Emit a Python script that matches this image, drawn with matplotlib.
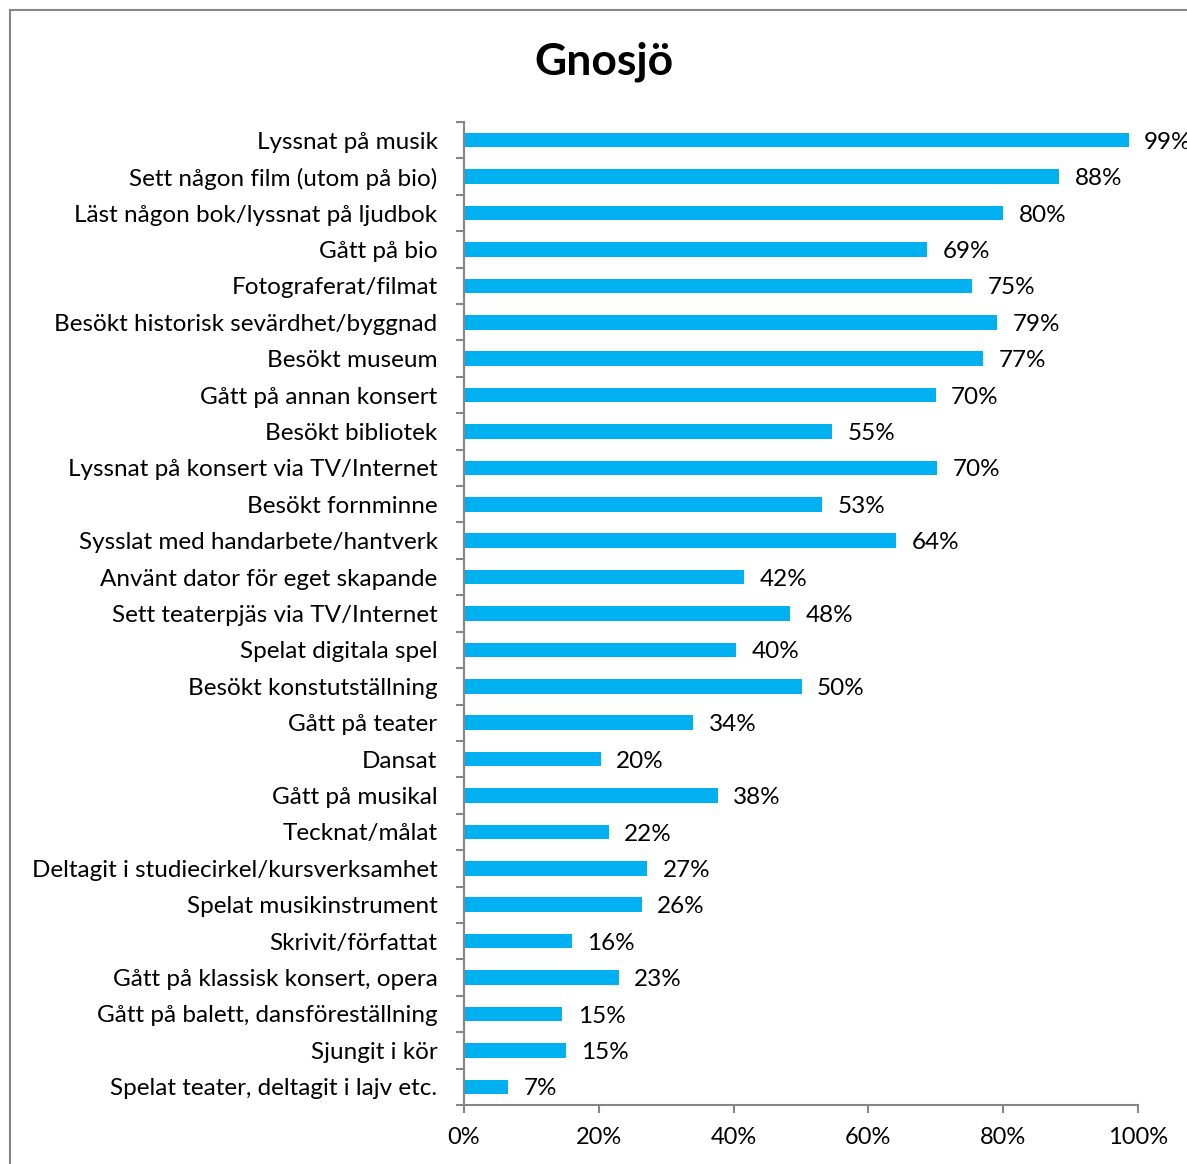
import matplotlib
matplotlib.use("Agg")
import matplotlib.pyplot as plt
from matplotlib.patches import Rectangle
from matplotlib.ticker import PercentFormatter

title = "Gnosjö"
categories = [
    "Lyssnat på musik",
    "Sett någon film (utom på bio)",
    "Läst någon bok/lyssnat på ljudbok",
    "Gått på bio",
    "Fotograferat/filmat",
    "Besökt historisk sevärdhet/byggnad",
    "Besökt museum",
    "Gått på annan konsert",
    "Besökt bibliotek",
    "Lyssnat på konsert via TV/Internet",
    "Besökt fornminne",
    "Sysslat med handarbete/hantverk",
    "Använt dator för eget skapande",
    "Sett teaterpjäs via TV/Internet",
    "Spelat digitala spel",
    "Besökt konstutställning",
    "Gått på teater",
    "Dansat",
    "Gått på musikal",
    "Tecknat/målat",
    "Deltagit i studiecirkel/kursverksamhet",
    "Spelat musikinstrument",
    "Skrivit/författat",
    "Gått på klassisk konsert, opera",
    "Gått på balett, dansföreställning",
    "Sjungit i kör",
    "Spelat teater, deltagit i lajv etc.",
]
values = [98.6, 88.3, 80.0, 68.7, 75.4, 79.1, 77.0, 70.0, 54.6, 70.2, 53.1, 64.1,
          41.6, 48.4, 40.4, 50.1, 34.0, 20.3, 37.7, 21.5, 27.2, 26.4, 16.0, 23.0,
          14.6, 15.1, 6.6]
value_labels = ["99%", "88%", "80%", "69%", "75%", "79%", "77%", "70%", "55%", "70%",
                "53%", "64%", "42%", "48%", "40%", "50%", "34%", "20%", "38%", "22%",
                "27%", "26%", "16%", "23%", "15%", "15%", "7%"]
xticks = [0, 20, 40, 60, 80, 100]

FONT = ["Lato", "DejaVu Sans"]
plt.rcParams["font.family"] = FONT
GRAY = "#868686"
BLUE = "#00B0F0"
FS = 17.5

W, H = 1187, 1164
fig = plt.figure(figsize=(W / 100, H / 100), dpi=100)
fig.patch.set_facecolor("white")

# outer frame (only top and left visible, chart is cropped)
fig.add_artist(Rectangle((10 / W, -0.1), 1.2, (H - 10) / H + 0.1, transform=fig.transFigure,
                         fill=False, edgecolor=GRAY, linewidth=1.5))

ax = fig.add_axes([464 / W, 59 / H, 674 / W, (1105 - 122) / H])
n = len(categories)
ypos = list(range(n))
ax.barh(ypos, values, height=0.4, color=BLUE, edgecolor="none")
ax.set_ylim(n - 0.5, -0.5)
ax.set_xlim(0, 100)

for y, v, lab in zip(ypos, values, value_labels):
    ax.annotate(lab, (v, y), xytext=(11, -1.5), textcoords="offset points",
                ha="left", va="center", fontsize=FS, color="black",
                annotation_clip=False)

ax.set_yticks(ypos)
ax.set_yticklabels(categories, fontsize=FS)
ax.set_yticks([i - 0.5 for i in range(n + 1)], minor=True)
ax.tick_params(axis="y", which="major", length=0, pad=19)
ax.tick_params(axis="y", which="minor", length=6, width=1.5, color=GRAY, direction="out")
ax.set_xticks(xticks)
ax.xaxis.set_major_formatter(PercentFormatter(100, decimals=0))
ax.tick_params(axis="x", length=6, width=1.5, color=GRAY, labelsize=17, pad=10)

for s in ["top", "right"]:
    ax.spines[s].set_visible(False)
for s in ["left", "bottom"]:
    ax.spines[s].set_color(GRAY)
    ax.spines[s].set_linewidth(1.5)

fig.text(604 / W, 1 - 62 / H, title, ha="center", va="center", fontsize=32,
         fontweight="bold")

fig.savefig("out.png", dpi=100)
